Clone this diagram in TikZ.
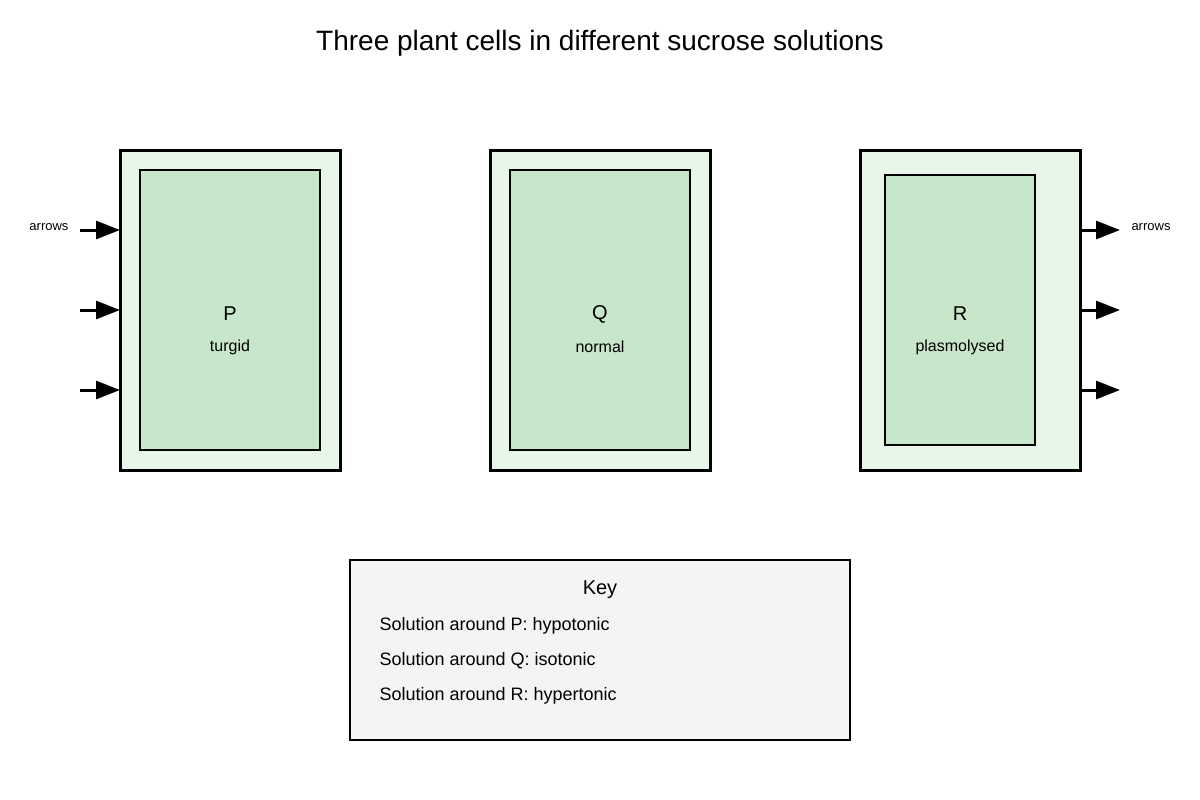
\documentclass[tikz,border=0pt]{standalone}
\usepackage{fontspec}
\setmainfont{Liberation Sans}
\usetikzlibrary{arrows.meta}
\definecolor{outerc}{HTML}{E8F5E9}
\definecolor{innerc}{HTML}{C8E6C9}
\definecolor{keyc}{HTML}{F4F4F4}
\begin{document}
\begin{tikzpicture}[x=1pt,y=-1pt,
  cellbox/.style={draw=black,line width=3pt,fill=outerc},
  vacbox/.style={draw=black,line width=2pt,fill=innerc},
  flow/.style={line width=3pt,-{Triangle[length=24pt,width=18pt]}},
  lbl/.style={font=\fontsize{20}{24}\selectfont},
  sub/.style={font=\fontsize{16}{19}\selectfont},
  small/.style={font=\fontsize{13}{16}\selectfont},
  keytxt/.style={font=\fontsize{18}{22}\selectfont,anchor=west}]
\useasboundingbox (0,0) rectangle (1200,800);
\node[font=\fontsize{28}{33}\selectfont] (title) at (600,43) {Three plant cells in different sucrose solutions};
% cell P
\draw[cellbox] (120,150) rectangle (340,470);
\draw[vacbox] (140,170) rectangle (320,450);
\node[lbl] (P) at (230,314) {P};
\node[sub] (Pt) at (230,347) {turgid};
% cell Q
\draw[cellbox] (490,150) rectangle (710,470);
\draw[vacbox] (510,170) rectangle (690,450);
\node[lbl] (Q) at (600,314) {Q};
\node[sub] (Qt) at (600,347) {normal};
% cell R
\draw[cellbox] (860,150) rectangle (1080,470);
\draw[vacbox] (885,175) rectangle (1035,445);
\node[lbl] (R) at (960,314) {R};
\node[sub] (Rt) at (960,347) {plasmolysed};
% arrows
\coordinate (la1) at (80,230); \coordinate (lb1) at (120,230);
\coordinate (la2) at (80,310); \coordinate (lb2) at (120,310);
\coordinate (la3) at (80,390); \coordinate (lb3) at (120,390);
\coordinate (ra1) at (1080,230); \coordinate (rb1) at (1120,230);
\coordinate (ra2) at (1080,310); \coordinate (rb2) at (1120,310);
\coordinate (ra3) at (1080,390); \coordinate (rb3) at (1120,390);
\draw[flow] (la1) -- (lb1);
\draw[flow] (la2) -- (lb2);
\draw[flow] (la3) -- (lb3);
\draw[flow] (ra1) -- (rb1);
\draw[flow] (ra2) -- (rb2);
\draw[flow] (ra3) -- (rb3);
\node[small] (al) at (49,227) {arrows};
\node[small] (ar) at (1151,227) {arrows};
% key
\draw[draw=black,line width=2pt,fill=keyc] (350,560) rectangle (850,740);
\node[font=\fontsize{20}{24}\selectfont] (key) at (600,590) {Key};
\node[keytxt] (k1) at (376,626) {Solution around P: hypotonic};
\node[keytxt] (k2) at (376,661) {Solution around Q: isotonic};
\node[keytxt] (k3) at (376,696) {Solution around R: hypertonic};
\end{tikzpicture}
\end{document}
